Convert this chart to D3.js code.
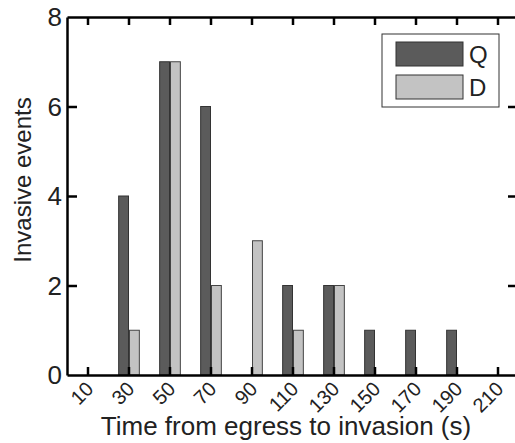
<!DOCTYPE html>
<html>
<head>
<meta charset="utf-8">
<script src="https://cdn.jsdelivr.net/npm/d3@7"></script>
<style>
  body { margin: 0; background: #fff; }
  svg { display: block; font-family: "Liberation Sans", Arial, sans-serif; }
</style>
</head>
<body>
<svg></svg>
<script>
// chart size
const width = 515, height = 443;
const margin = {left: 67, right: -3, top: 17, bottom: 68};

// data
const times = [10, 30, 50, 70, 90, 110, 130, 150, 170, 190, 210];
const qEvents = [0, 4, 7, 6, 0, 2, 2, 1, 1, 1, 0];
const dEvents = [0, 1, 7, 2, 3, 1, 2, 0, 0, 0, 0];
const yTicks = [0, 2, 4, 6, 8];
const seriesNames = ["Q", "D"];
const seriesColors = ["#5b5b5b", "#c3c3c3"];

const svg = d3.select("svg").attr("width", width).attr("height", height);

const x = d3.scaleLinear().domain([0, 220]).range([margin.left, width - margin.right]);
const y = d3.scaleLinear().domain([0, 8]).range([height - margin.bottom, margin.top]);
const barW = x(4.8) - x(0);

// bars
const rows = times.map((t, i) => ({t: t, q: qEvents[i], d: dEvents[i]}));
svg.append("g").selectAll("rect")
  .data(rows.filter(d => d.q > 0))
  .join("rect")
  .attr("x", d => x(d.t) - barW)
  .attr("y", d => y(d.q))
  .attr("width", barW)
  .attr("height", d => y(0) - y(d.q))
  .attr("fill", seriesColors[0])
  .attr("stroke", "#333").attr("stroke-width", 1);

svg.append("g").selectAll("rect")
  .data(rows.filter(d => d.d > 0))
  .join("rect")
  .attr("x", d => x(d.t) + 1)
  .attr("y", d => y(d.d))
  .attr("width", barW)
  .attr("height", d => y(0) - y(d.d))
  .attr("fill", seriesColors[1])
  .attr("stroke", "#444").attr("stroke-width", 1);

// axes, ticks pointing inward
function styleAxis(g) {
  g.select(".domain").attr("stroke", "#000").attr("stroke-width", 2.5);
  g.selectAll(".tick line").attr("stroke", "#000").attr("stroke-width", 2.5);
}
svg.append("g").attr("transform", `translate(0,${y(0)})`)
  .call(d3.axisTop(x).tickValues(times).tickSize(8).tickSizeOuter(0).tickFormat(""))
  .call(styleAxis);
svg.append("g").attr("transform", `translate(0,${y(8)})`)
  .call(d3.axisBottom(x).tickValues(times).tickSize(8).tickSizeOuter(0).tickFormat(""))
  .call(styleAxis);
svg.append("g").attr("transform", `translate(${x(0)},0)`)
  .call(d3.axisRight(y).tickValues([2, 4, 6]).tickSize(10).tickSizeOuter(0).tickFormat(""))
  .call(styleAxis);
svg.append("g").attr("transform", `translate(${x(220)},0)`)
  .call(d3.axisLeft(y).tickValues([2, 4, 6]).tickSize(10).tickSizeOuter(0).tickFormat(""))
  .call(styleAxis);

// y tick labels
svg.append("g").selectAll("text")
  .data(yTicks)
  .join("text")
  .attr("x", x(0) - 5)
  .attr("y", d => y(d) + 9)
  .attr("text-anchor", "end")
  .attr("font-size", 26)
  .attr("fill", "#222")
  .text(d => d);

// x tick labels, rotated
svg.append("g").selectAll("text")
  .data(times)
  .join("text")
  .attr("transform", d => `translate(${x(d) - 3},${y(0) + 5}) rotate(-45)`)
  .attr("text-anchor", "end")
  .attr("dy", "0.72em")
  .attr("font-size", 20)
  .attr("fill", "#222")
  .text(d => d);

// axis titles
svg.append("text")
  .attr("x", 286).attr("y", 435)
  .attr("text-anchor", "middle")
  .attr("font-size", 26)
  .attr("fill", "#222")
  .text("Time from egress to invasion (s)");

svg.append("text")
  .attr("transform", `translate(31,${180}) rotate(-90)`)
  .attr("text-anchor", "middle")
  .attr("font-size", 24)
  .attr("fill", "#222")
  .text("Invasive events");

// legend
const lg = svg.append("g").attr("transform", "translate(382,34)");
lg.append("rect").attr("width", 117).attr("height", 73)
  .attr("fill", "#fff").attr("stroke", "#333").attr("stroke-width", 1);
seriesNames.forEach((s, i) => {
  lg.append("rect")
    .attr("x", 14).attr("y", 8 + i * 33)
    .attr("width", 67).attr("height", 24)
    .attr("fill", seriesColors[i])
    .attr("stroke", "#333").attr("stroke-width", 1);
  lg.append("text")
    .attr("x", 87).attr("y", 29 + i * 33)
    .attr("font-size", 24)
    .attr("fill", "#222")
    .text(s);
});
</script>
</body>
</html>
